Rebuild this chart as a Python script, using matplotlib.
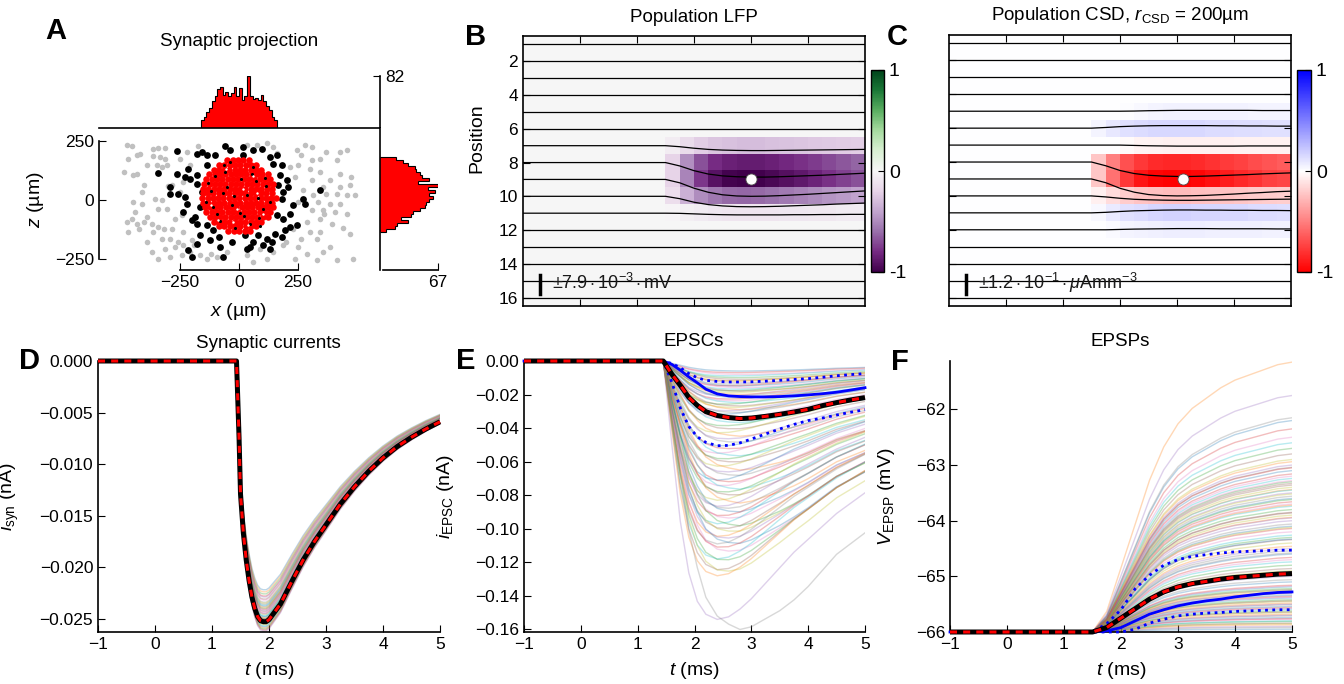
import matplotlib
matplotlib.use("Agg")
import matplotlib.pyplot as plt
import numpy as np
from matplotlib.ticker import FuncFormatter

# ---------------- panel A: synaptic projection ----------------
gray_x = [-476, -455, -469, -434, -419, -490, -448, -434, -363, -342, -313, -363, -335, -313,
          -349, -328, -306, -405, -412, -448, -412, -356, -328, -342, -306, -476, -455, -434,
          -405, -391, -370, -469, -426, -363, -342, -320, -391, -328, -292, -257, -370, -313,
          -271, -236, -342, -292, -243, -207, -165, -250, -222, -207, -264, -236, -285, -250,
          -271, -243, -285, -236, -193, -137, -95, -52, -120, -175, -300, -390, -440, -200,
          32, 75, 145, 244, 280, 308, 265, 308, 343, 371, 428, 456, 414, 216, 251, 301, 343,
          428, 477, 237, 308, 386, 428, 470, 357, 272, 315, 371, 414, 456, 491, 251, 336, 386,
          428, 308, 357, 407, 456, 287, 343, 393, 230, 301, 343, 470, 265, 329, 188, 251, 386,
          145, 287, 357, 117, 237, 329, 414, 484, 61, 32, 89, 200, 120, 160, 440, 360]
gray_z = [231, 229, 175, 189, 196, 118, 104, 111, 217, 220, 220, 186, 182, 175,
          147, 140, 147, 62, 34, -9, -16, 5, -2, -37, -37, -93, -79, -101,
          -93, -72, -101, -136, -122, -136, -115, -122, -178, -164, -164, -178, -221, -207,
          -199, -192, -249, -242, -235, -221, -235, 175, 203, 147, 104, 76, 62, 34,
          -79, -65, -122, -136, -192, -249, -242, -221, -230, 230, 60, 150, -50, -170,
          231, 231, 224, 210, 231, 224, 189, 168, 175, 203, 203, 210, 168, 140, 147, 133, 118,
          111, 97, 97, 83, 83, 55, 62, 55, 41, 20, 27, 27, 20, 20, -9, -9, -16,
          -16, -44, -44, -51, -58, -93, -79, -101, -122, -136, -136, -143, -164, -164, -192, -199, -199,
          -221, -228, -221, -249, -249, -256, -256, -249, -263, -235, -206, -180, 240, 200, -120, -60]

black_x = [-264, -179, -158, -137, -102, -59, -38, -342, -264, -229, -207, -179, -215, -292,
           -292, -257, -229, -222, -236, -200, -179, -186, -137, -109, -165, -123, -87, -80,
           -179, -215, -200, -66, -31, -165, -158, -179, -137,
           18, 61, 96, 18, 131, 160, 145, 181, 174, 202, 209, 343, 272, 280, 230, 216, 188,
           216, 244, 195, 152, 181, 117, 138, 103, 131, 61, 32, 46, 82, 25, 160, 181, 188, 167]
black_z = [206, 196, 203, 189, 189, 229, 210, 116, 111, 97, 90, 69, 133, 55,
           27, 27, 12, -16, -51, -86, -101, -72, -108, -129, -150, -171, -157, -199,
           -185, -213, -242, -242, -178, -30, 34, 104, 147,
           189, 210, 217, 224, 182, 189, 154, 147, 104, 83, 55, 41, 5, -16, -23, -58, -79,
           -115, -108, -129, -143, -157, -164, -178, -192, -206, -178, -206, -199, -150, -150,
           -65, 5, 34, 62]

red_rows_z = [-130, -112, -92, -72, -52, -32, -12, 8, 28, 48, 68, 88, 108, 128, 148, 168]
red_rows_x = [
    [-45, -22, 2, 24, 46],
    [-85, -62, -40, -17, 6, 29, 51, 74],
    [-108, -86, -63, -41, -18, 4, 27, 49, 72, 95],
    [-125, -103, -80, -58, -35, -13, 10, 32, 55, 77, 100, 122],
    [-138, -116, -93, -71, -48, -26, -3, 19, 42, 64, 87, 109, 132],
    [-146, -124, -101, -79, -56, -34, -11, 11, 34, 56, 79, 101, 124, 146],
    [-152, -130, -107, -85, -62, -40, -17, 5, 28, 50, 73, 95, 118, 140],
    [-156, -133, -111, -88, -66, -43, -21, 2, 24, 47, 69, 92, 114, 137, 156],
    [-154, -131, -109, -86, -64, -41, -19, 4, 26, 49, 71, 94, 116, 139],
    [-153, -130, -108, -85, -63, -40, -18, 5, 27, 50, 72, 95, 117, 140],
    [-148, -125, -103, -80, -58, -35, -13, 10, 32, 55, 77, 100, 122, 145],
    [-138, -116, -93, -71, -48, -26, -3, 19, 42, 64, 87, 109, 132],
    [-126, -104, -81, -59, -36, -14, 9, 31, 54, 76, 99, 121],
    [-108, -86, -63, -41, -18, 4, 27, 49, 72, 95],
    [-85, -62, -40, -17, 5, 28, 50, 73],
    [-50, -27, -4, 18, 41],
]
speck_x = [-120, -95, -60, -30, 10, 45, 80, 115, -140, -70, 20, 60, 100, -100, -40, 35, 90,
           -15, 70, -80, -130, 130, -50, 5, 55, -110, 110, -20, 85, -65]
speck_z = [40, -60, 120, -20, 90, -100, 10, 60, -10, 30, -70, 140, -40, 100, 160, 20, -110,
           -120, 80, -90, 70, -10, 55, -55, 110, -30, 95, 15, -75, 150]
speck_wx = [-90, -25, 40, 75, -55, 15, 100, -120, 60, -10]
speck_wz = [-85, -95, -105, 30, 130, 45, -60, -20, 100, -40]

# histograms of the red (projecting) synapses
hx_range = (-161, 161)
hx_counts = [13, 18, 25, 31, 42, 50, 61, 64, 52, 56, 50, 55, 64, 50,
             63, 44, 50, 82, 50, 46, 47, 44, 52, 42, 34, 29, 18, 13]
hz_range = (-138, 181)
hz_counts_top_down = [19, 27, 32, 40, 42, 46, 48, 57, 44, 67, 55, 63, 57, 61, 57,
                      53, 52, 46, 38, 36, 24, 32, 20, 17, 7]
hx_max, hz_max = 82, 67

# ---------------- panels B/C: LFP and CSD ----------------
lfp_t = [1.5, 1.75, 2.0, 2.25, 2.5, 2.75, 3.0, 3.25, 3.5, 3.75, 4.0, 4.25, 4.5, 4.75, 5.0]
lfp_rows = {
    7: [0, -0.06, -0.15, -0.22, -0.26, -0.28, -0.29, -0.29, -0.28, -0.27, -0.26, -0.25, -0.24, -0.23, -0.22],
    8: [0, -0.20, -0.48, -0.68, -0.79, -0.84, -0.86, -0.86, -0.84, -0.81, -0.78, -0.75, -0.71, -0.67, -0.63],
    9: [0, -0.20, -0.52, -0.76, -0.91, -0.98, -1.0, -0.99, -0.96, -0.92, -0.88, -0.83, -0.78, -0.73, -0.68],
    10: [0, -0.14, -0.35, -0.49, -0.57, -0.61, -0.62, -0.61, -0.59, -0.56, -0.53, -0.50, -0.46, -0.43, -0.40],
    11: [0, -0.01, -0.04, -0.07, -0.09, -0.10, -0.10, -0.10, -0.10, -0.09, -0.09, -0.08, -0.08, -0.07, -0.07],
}
csd_rows = {
    5: [0, 0, 0, 0.01, 0.03, 0.04, 0.05, 0.05, 0.05, 0.05, 0.05, 0.05, 0.04, 0.04, 0.04],
    6: [0, 0.04, 0.09, 0.12, 0.14, 0.15, 0.15, 0.15, 0.15, 0.14, 0.14, 0.13, 0.13, 0.12, 0.12],
    7: [0, 0, 0, -0.02, -0.04, -0.05, -0.06, -0.06, -0.06, -0.06, -0.06, -0.05, -0.05, -0.05, -0.05],
    8: [0, -0.22, -0.50, -0.68, -0.78, -0.83, -0.85, -0.85, -0.83, -0.80, -0.77, -0.74, -0.70, -0.67, -0.64],
    9: [0, -0.22, -0.55, -0.78, -0.92, -0.98, -1.0, -0.99, -0.97, -0.93, -0.89, -0.84, -0.80, -0.75, -0.72],
    10: [0, -0.06, -0.14, -0.20, -0.23, -0.25, -0.26, -0.26, -0.25, -0.24, -0.23, -0.22, -0.21, -0.20, -0.19],
    11: [0, 0.03, 0.08, 0.12, 0.14, 0.16, 0.17, 0.17, 0.16, 0.16, 0.15, 0.15, 0.14, 0.14, 0.13],
    12: [0, 0.0, 0.02, 0.04, 0.05, 0.06, 0.07, 0.07, 0.07, 0.06, 0.06, 0.06, 0.06, 0.05, 0.05],
}
lfp_min = (3.0, 9)
csd_min = (3.1, 9)
lfp_scale_txt = r"$\pm7.9\cdot10^{-3}\cdot$mV"
csd_scale_txt = r"$\pm1.2\cdot10^{-1}\cdot\mu$Amm$^{-3}$"

# ---------------- panel D: synaptic currents ----------------
d_t = [-1, 1.43, 1.475, 1.5, 1.55, 1.6, 1.65, 1.7, 1.75, 1.8, 1.85, 1.9, 1.95, 2.0, 2.2, 2.4,
       2.6, 2.8, 3.0, 3.25, 3.5, 3.75, 4.0, 4.25, 4.5, 4.75, 5.0]
d_mean = [0, 0, -0.0075, -0.0129, -0.0167, -0.0193, -0.0213, -0.0229, -0.0240, -0.0248, -0.0252,
          -0.0253, -0.0253, -0.0251, -0.0236, -0.0214, -0.0193, -0.0175, -0.0159, -0.0139,
          -0.0122, -0.0107, -0.0094, -0.0083, -0.0074, -0.0066, -0.0059]
d_peaks = [-0.0222, -0.0224, -0.0226, -0.0228, -0.0229, -0.0231, -0.0232, -0.0234, -0.0235,
           -0.0237, -0.0238, -0.0239, -0.0240, -0.0241, -0.0242, -0.0243, -0.0244, -0.0245,
           -0.0246, -0.0247, -0.0248, -0.0249, -0.0250, -0.0251, -0.0252, -0.0253, -0.0254,
           -0.0255, -0.0256, -0.0257, -0.0258, -0.0259, -0.0260, -0.0261, -0.0262, -0.0250,
           -0.0245, -0.0236, -0.0255, -0.0248]

# ---------------- panel E: EPSCs ----------------
e_t = [-1, 1.45, 1.6, 1.75, 1.9, 2.05, 2.2, 2.4, 2.6, 2.8, 3.0, 3.25, 3.5, 3.75, 4.0, 4.25, 4.5, 4.75, 5.0]
e_mean = [0, 0, -0.0078, -0.0145, -0.0217, -0.0265, -0.0302, -0.0325, -0.0337, -0.0343, -0.0340,
          -0.0330, -0.0318, -0.0304, -0.0288, -0.0266, -0.0248, -0.0232, -0.0218]
e_median = [0, 0, -0.0020, -0.0055, -0.0095, -0.0130, -0.0168, -0.0196, -0.0208, -0.0212, -0.0214,
            -0.0214, -0.0212, -0.0208, -0.0202, -0.0195, -0.0186, -0.0173, -0.0159]
e_low = [0, 0, -0.0015, -0.0040, -0.0075, -0.0100, -0.0115, -0.0122, -0.0125, -0.0125, -0.0124,
         -0.0120, -0.0115, -0.0110, -0.0105, -0.0097, -0.0088, -0.0081, -0.0075]
e_high = [0, 0, -0.0125, -0.0280, -0.0390, -0.0452, -0.0485, -0.0505, -0.0503, -0.0488, -0.0465,
          -0.0435, -0.0405, -0.0378, -0.0355, -0.0340, -0.0322, -0.0305, -0.0290]
# normalised shapes of the slow (mean-like) and fast (deep) single-cell EPSCs
e_slow = [0, 0, 0.23, 0.42, 0.63, 0.77, 0.88, 0.95, 0.98, 1.0, 0.99, 0.96, 0.93, 0.89, 0.84, 0.78, 0.72, 0.68, 0.64]
e_fast = [0, 0, 0.32, 0.62, 0.82, 0.93, 0.98, 1.0, 0.99, 0.96, 0.92, 0.86, 0.80, 0.74, 0.69, 0.64, 0.59, 0.55, 0.51]
e_amp = [-0.006, -0.007, -0.008, -0.009, -0.010, -0.011, -0.012, -0.012, -0.013, -0.014, -0.015,
         -0.015, -0.016, -0.017, -0.018, -0.018, -0.019, -0.020, -0.021, -0.021, -0.022, -0.023,
         -0.024, -0.025, -0.026, -0.027, -0.028, -0.029, -0.030, -0.031, -0.032, -0.034, -0.035,
         -0.037, -0.039, -0.041, -0.043, -0.045, -0.047, -0.049, -0.051, -0.053, -0.055, -0.057,
         -0.059, -0.061, -0.063, -0.065, -0.067, -0.069, -0.071, -0.073, -0.075, -0.077, -0.079,
         -0.081, -0.083, -0.085, -0.087, -0.089, -0.091, -0.093, -0.095, -0.097, -0.099, -0.101,
         -0.103, -0.105, -0.107, -0.109, -0.110, -0.112, -0.115, -0.118, -0.120, -0.125, -0.127,
         -0.128, -0.154, -0.160]
e_fastness = [0.0, 0.2, 0.0, 0.3, 0.1, 0.0, 0.4, 0.2, 0.0, 0.3, 0.1, 0.5, 0.0, 0.2, 0.4, 0.0,
              0.3, 0.1, 0.6, 0.2, 0.0, 0.5, 0.3, 0.1, 0.7, 0.2, 0.4, 0.0, 0.6, 0.3, 0.8, 0.1,
              0.5, 0.2, 0.7, 0.4, 0.9, 0.1, 0.6, 0.3, 0.8, 0.5, 1.0, 0.2, 0.7, 0.4, 0.9, 0.0,
              0.6, 0.3, 1.0, 0.5, 0.8, 0.2, 0.7, 0.4, 1.0, 0.1, 0.9, 0.6, 0.3, 0.8, 0.5, 1.0,
              0.2, 0.7, 0.4, 0.9, 0.6, 1.0, 0.3, 0.8, 0.5, 1.0, 0.7, 0.9, 0.6, 1.0, 1.0, 0.0]

# ---------------- panel F: EPSPs ----------------
f_t = [-1, 1.5, 1.75, 2.0, 2.25, 2.5, 2.75, 3.0, 3.25, 3.5, 3.75, 4.0, 4.25, 4.5, 4.75, 5.0]
f_mean = [-66, -66, -65.92, -65.75, -65.58, -65.41, -65.28, -65.19, -65.13, -65.09, -65.05,
          -65.02, -65.00, -64.98, -64.96, -64.95]
f_median = [-66, -66, -65.98, -65.92, -65.80, -65.68, -65.60, -65.53, -65.48, -65.44, -65.41,
            -65.37, -65.34, -65.31, -65.29, -65.28]
f_high = [-66, -66, -65.85, -65.60, -65.22, -64.98, -64.80, -64.70, -64.64, -64.61, -64.58,
          -64.56, -64.55, -64.54, -64.53, -64.53]
f_low = [-66, -66, -66, -66, -65.95, -65.84, -65.77, -65.71, -65.68, -65.66, -65.65, -65.63,
         -65.62, -65.61, -65.60, -65.60]
f_final = [-65.95, -65.92, -65.90, -65.87, -65.85, -65.84, -65.81, -65.80, -65.77, -65.76,
           -65.74, -65.71, -65.70, -65.68, -65.65, -65.64, -65.62, -65.59, -65.58, -65.56,
           -65.54, -65.51, -65.50, -65.48, -65.45, -65.44, -65.42, -65.39, -65.38, -65.36,
           -65.34, -65.31, -65.30, -65.28, -65.25, -65.24, -65.22, -65.19, -65.18, -65.16,
           -65.10, -65.06, -65.00, -64.94, -64.90, -64.86, -64.80, -64.74, -64.70, -64.66,
           -64.60, -64.54, -64.50, -64.46, -64.40, -64.34, -64.30, -64.26, -64.20, -64.14,
           -64.10, -64.06, -64.00, -63.94, -63.90, -63.86, -63.80, -63.74, -63.70, -63.66,
           -63.60, -63.56, -63.50, -63.44, -63.40, -63.36, -63.30, -63.24, -63.20, -63.16,
           -63.10, -63.04, -63.00, -62.94, -62.90, -62.80, -62.70, -62.60, -62.50, -62.35,
           -62.20, -62.15, -61.75, -61.15, -64.12, -63.85, -63.62, -63.45, -63.28, -63.05,
           -64.33, -64.58, -63.95, -63.72, -63.52, -63.33]

trace_colors = ["#1f77b4", "#ff7f0e", "#2ca02c", "#d62728", "#9467bd",
                "#8c564b", "#e377c2", "#7f7f7f", "#bcbd22", "#17becf"]

W, H = 1344, 684
TICK_FS = 12.5
LABEL_FS = 14
TITLE_FS = 13.5


def box(l, t, r, b):
    return [l / W, 1 - b / H, (r - l) / W, (b - t) / H]


def ftext(fig, x, y, s, **kw):
    fig.text(x / W, 1 - y / H, s, ha=kw.pop("ha", "center"), va=kw.pop("va", "center"), **kw)


def minus_fmt(fmt):
    return FuncFormatter(lambda v, _: fmt.format(v).replace("-", "\u2212"))


def mean_line(ax, t, y):
    ax.plot(t, y, color="k", lw=3.6, zorder=5, clip_on=False, solid_capstyle="butt")
    ax.plot(t, y, color="red", lw=2.2, dashes=(2.3, 2.0), zorder=6, clip_on=False)


def time_axes(ax):
    ax.set_xlim(-1, 5)
    ax.set_xticks(range(-1, 6))
    for s in ("top", "right"):
        ax.spines[s].set_visible(False)
    ax.tick_params(labelsize=TICK_FS, top=False, right=False)
    ax.set_xlabel(r"$t$ (ms)", fontsize=LABEL_FS)
    ax.xaxis.set_label_coords(0.5, -0.105)


def heat_panel(fig, rect, crect, rows, cmap, dot, scale_txt):
    ax = fig.add_axes(box(*rect))
    mat = np.zeros((16, 24))
    for r, vals in rows.items():
        mat[r - 1, 10:] = vals[1:]
    im = ax.imshow(mat, cmap=cmap, vmin=-1, vmax=1, extent=(-1, 5, 16.5, 0.5),
                   aspect="auto", interpolation="nearest")
    t_tr = np.r_[-1.0, lfp_t]
    for p in range(1, 17):
        vals = np.r_[0.0, rows.get(p, np.zeros(len(lfp_t)))]
        ax.plot(t_tr, p - vals, color="k", lw=0.9)
    ax.plot(*dot, "o", mfc="white", mec="0.3", mew=0.6, ms=8, zorder=5)
    ax.plot([-0.7, -0.7], [14.65, 15.8], color="k", lw=2.5)
    ax.text(-0.5, 15.15, scale_txt, fontsize=13, va="center", ha="left", color="0.1")
    ax.set_xlim(-1, 5)
    ax.set_ylim(16.5, 0.5)
    ax.set_xticks(range(0, 5))
    ax.set_yticks(range(2, 17, 2))
    ax.tick_params(top=True, right=True, labelbottom=False, labelsize=TICK_FS)
    cax = fig.add_axes(box(*crect))
    cb = fig.colorbar(im, cax=cax, ticks=[-1, 0, 1])
    cb.ax.set_yticklabels(["-1", "0", "1"])
    cb.ax.tick_params(labelsize=14, direction="in", length=4)
    cb.outline.set_linewidth(1.0)
    return ax


def main():
    plt.rcParams["font.family"] = ["Liberation Sans", "DejaVu Sans"]
    plt.rcParams["mathtext.fontset"] = "custom"
    plt.rcParams["mathtext.rm"] = "Liberation Sans"
    plt.rcParams["mathtext.it"] = "Liberation Sans:italic"
    plt.rcParams["mathtext.bf"] = "Liberation Sans:bold"
    plt.rcParams["xtick.direction"] = "in"
    plt.rcParams["ytick.direction"] = "in"
    plt.rcParams["xtick.major.size"] = 5
    plt.rcParams["ytick.major.size"] = 5
    plt.rcParams["axes.linewidth"] = 1.2

    fig = plt.figure(figsize=(W / 100, H / 100), dpi=100)

    # ---- A ----
    ax = fig.add_axes(box(99, 128, 380, 270))
    red_x = np.concatenate([np.asarray(r, float) for r in red_rows_x])
    red_z = np.concatenate([np.full(len(r), z, float) for r, z in zip(red_rows_x, red_rows_z)])
    ax.scatter(gray_x, gray_z, s=16, c="#c0c0c0", lw=0)
    ax.scatter(black_x, black_z, s=24, c="k", lw=0)
    ax.scatter(red_x, red_z, s=22, c="red", lw=0)
    ax.scatter(speck_x, speck_z, s=5, c="k", lw=0)
    ax.scatter(speck_wx, speck_wz, s=3, c="white", lw=0)
    ax.set_xlim(-594, 598)
    ax.set_ylim(-297, 305)
    for s in ("top", "right"):
        ax.spines[s].set_visible(False)
    ax.spines["left"].set_bounds(-250, 250)
    ax.spines["bottom"].set_bounds(-250, 250)
    ax.set_xticks([-250, 0, 250])
    ax.set_yticks([-250, 0, 250])
    ax.tick_params(labelsize=TICK_FS)

    axt = fig.add_axes(box(99, 76, 380, 128))
    edges = np.linspace(*hx_range, len(hx_counts) + 1)
    axt.stairs(hx_counts, edges, fill=True, color="red")
    axt.stairs(hx_counts, edges, color="k", lw=0.8)
    axt.set_xlim(-594, 598)
    axt.set_ylim(0, hx_max)
    for s in ("top", "left"):
        axt.spines[s].set_visible(False)
    axt.set_xticks([])
    axt.yaxis.tick_right()
    axt.set_yticks([hx_max])
    axt.tick_params(labelsize=TICK_FS, direction="in")

    axr = fig.add_axes(box(380, 128, 438, 270))
    zc = hz_counts_top_down[::-1]
    edges = np.linspace(*hz_range, len(zc) + 1)
    axr.stairs(zc, edges, orientation="horizontal", fill=True, color="red")
    axr.stairs(zc, edges, orientation="horizontal", color="k", lw=0.8)
    axr.set_xlim(0, hz_max)
    axr.set_ylim(-297, 305)
    for s in ("top", "right"):
        axr.spines[s].set_visible(False)
    axr.spines["bottom"].set_bounds(3, hz_max)
    axr.set_yticks([])
    axr.set_xticks([hz_max])
    axr.tick_params(labelsize=TICK_FS)

    ftext(fig, 239, 42, "Synaptic projection", fontsize=TITLE_FS)
    ftext(fig, 239, 311, r"$x$ (µm)", fontsize=LABEL_FS)
    ftext(fig, 36, 200, r"$z$ (µm)", fontsize=LABEL_FS, rotation=90)

    # ---- B, C ----
    axb = heat_panel(fig, (523, 36, 865, 306), (871, 70, 884, 272), lfp_rows, "PRGn",
                     lfp_min, lfp_scale_txt)
    axb.set_ylabel("Position", fontsize=LABEL_FS)
    axb.yaxis.set_label_coords(-0.11, 0.62)
    axc = heat_panel(fig, (949, 35, 1291, 306), (1297, 70, 1311, 272), csd_rows, "bwr_r",
                     csd_min, csd_scale_txt)
    axc.set_yticklabels([])
    ftext(fig, 694, 18, "Population LFP", fontsize=TITLE_FS)
    ftext(fig, 1120, 16, r"Population CSD, $r_{\mathrm{CSD}}$ = 200µm", fontsize=TITLE_FS)

    # ---- D ----
    axd = fig.add_axes(box(98, 361, 440, 632))
    dm = np.asarray(d_mean)
    for i, pk in enumerate(d_peaks):
        axd.plot(d_t, dm * pk / min(d_mean), color=trace_colors[i % 10], alpha=0.3, lw=1)
    mean_line(axd, d_t, d_mean)
    time_axes(axd)
    axd.set_ylim(-0.0263, 0)
    axd.set_yticks([0, -0.005, -0.01, -0.015, -0.02, -0.025])
    axd.yaxis.set_major_formatter(minus_fmt("{:.3f}"))
    axd.set_ylabel(r"$i_{\mathrm{syn}}$ (nA)", fontsize=LABEL_FS)
    axd.yaxis.set_label_coords(-0.225, 0.5)
    ftext(fig, 268, 343, "Synaptic currents", fontsize=TITLE_FS)

    # ---- E ----
    axe = fig.add_axes(box(524, 361, 865, 632))
    slow, fast = np.asarray(e_slow), np.asarray(e_fast)
    for i, (a, w) in enumerate(zip(e_amp, e_fastness)):
        axe.plot(e_t, a * ((1 - w) * slow + w * fast), color=trace_colors[(i * 3) % 10],
                 alpha=0.3, lw=1)
    axe.plot(e_t, e_low, color="blue", lw=2, ls=(0, (1, 1.6)), zorder=4, clip_on=False)
    axe.plot(e_t, e_high, color="blue", lw=2, ls=(0, (1, 1.6)), zorder=4, clip_on=False)
    axe.plot(e_t, e_median, color="blue", lw=2, zorder=4, clip_on=False)
    mean_line(axe, e_t, e_mean)
    time_axes(axe)
    axe.set_ylim(-0.1615, 0)
    axe.set_yticks(np.arange(0, -0.17, -0.02))
    axe.yaxis.set_major_formatter(minus_fmt("{:.2f}"))
    axe.set_ylabel(r"$i_{\mathrm{EPSC}}$ (nA)", fontsize=LABEL_FS)
    axe.yaxis.set_label_coords(-0.2, 0.5)
    ftext(fig, 694, 342, "EPSCs", fontsize=TITLE_FS)

    # ---- F ----
    axf = fig.add_axes(box(950, 361, 1292, 632))
    rise = np.asarray(f_mean) + 66
    for i, v in enumerate(f_final):
        axf.plot(f_t, -66 + rise * (v + 66) / rise[-1], color=trace_colors[(i * 7) % 10],
                 alpha=0.3, lw=1)
    axf.plot(f_t, f_low, color="blue", lw=2, ls=(0, (1, 1.6)), zorder=4, clip_on=False)
    axf.plot(f_t, f_high, color="blue", lw=2, ls=(0, (1, 1.6)), zorder=4, clip_on=False)
    axf.plot(f_t, f_median, color="blue", lw=2, zorder=4, clip_on=False)
    mean_line(axf, f_t, f_mean)
    time_axes(axf)
    axf.set_ylim(-66, -61.13)
    axf.set_yticks([-66, -65, -64, -63, -62])
    axf.set_ylabel(r"$V_{\mathrm{EPSP}}$ (mV)", fontsize=LABEL_FS)
    axf.yaxis.set_label_coords(-0.155, 0.5)
    ftext(fig, 1120, 342, "EPSPs", fontsize=TITLE_FS)

    # ---- panel letters ----
    for letter, x, y in [("A", 45, 31), ("B", 465, 37), ("C", 887, 37),
                         ("D", 19, 361), ("E", 456, 361), ("F", 891, 362)]:
        ftext(fig, x, y, letter, fontsize=21, fontweight="bold", ha="left")

    fig.savefig("out.png", dpi=100)
    plt.close(fig)


if __name__ == "__main__":
    main()
